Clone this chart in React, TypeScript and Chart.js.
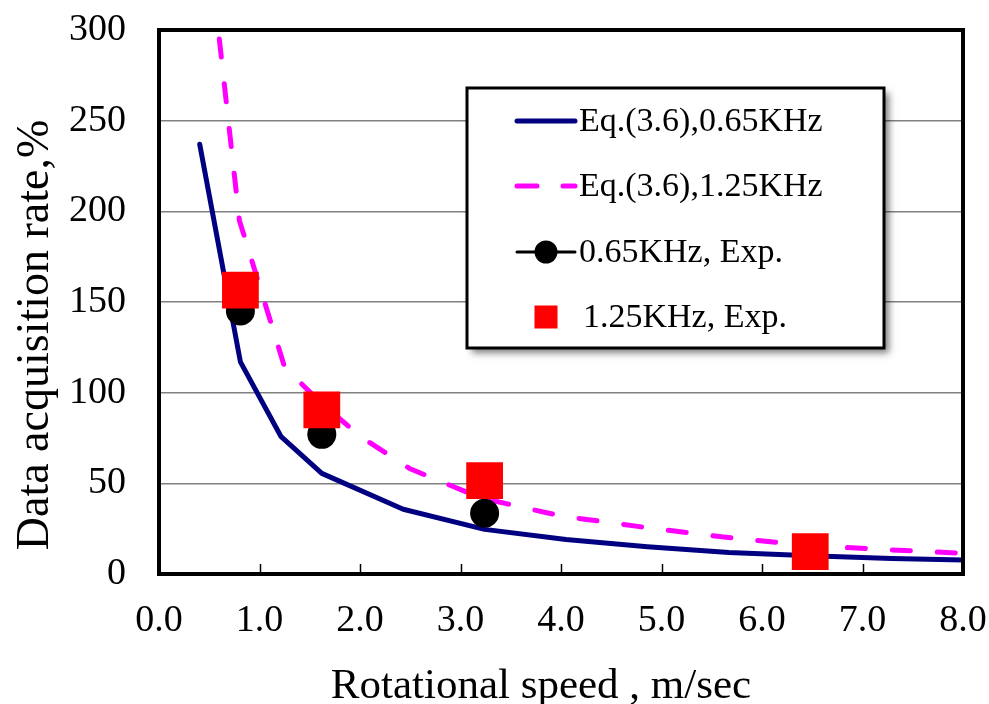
import React, { useEffect, useRef } from 'react';
import { Chart, registerables } from 'chart.js';

Chart.register(...registerables);

// Eq.(3.6), 0.65 KHz (solid navy)
const eq065X = [0.405, 0.81, 1.215, 1.62, 2.43, 3.24, 4.05, 4.86, 5.67, 6.48, 7.29, 8.0];
const eq065Y = [237, 117, 75.7, 55.5, 35.7, 24.6, 19, 15, 11.8, 10, 8.6, 7.7];

// Eq.(3.6), 1.25 KHz (dashed magenta)
const eq125X = [0.6, 0.8, 1.25, 1.6, 2.0, 2.5, 3.2, 4.0, 4.8, 5.6, 6.4, 7.2, 8.0];
const eq125Y = [295, 195, 114, 95, 76, 58, 42, 32, 26, 20.5, 16, 13.5, 11.4];

// Experiments
const expX = [0.81, 1.62, 3.24, 6.48];
const exp065Y = [145, 77, 33.5, 12];
const exp125Y = [156.5, 90.5, 51.5, 12.3];

const xTickValues = [0, 1, 2, 3, 4, 5, 6, 7, 8];
const yTickValues = [0, 50, 100, 150, 200, 250, 300];

const seriesLabels = [
  'Eq.(3.6),0.65KHz',
  'Eq.(3.6),1.25KHz',
  '0.65KHz, Exp.',
  '1.25KHz, Exp.',
];
const xTitle = 'Rotational speed , m/sec';
const yTitle = 'Data acquisition rate,%';

const FONT = '"Liberation Serif", "Times New Roman", serif';

const toPts = (xs: number[], ys: number[]) => xs.map((x, i) => ({ x, y: ys[i] }));

const framePlugin = {
  id: 'frameAndExtras',
  afterDatasetsDraw(chart: any) {
    const { ctx, chartArea, scales } = chart;
    const { left, right, top, bottom } = chartArea;
    ctx.save();
    // inward tick marks on x axis
    ctx.strokeStyle = '#000';
    ctx.lineWidth = 1.5;
    xTickValues.forEach((v) => {
      const px = Math.round(scales.x.getPixelForValue(v)) + 0.5;
      ctx.beginPath();
      ctx.moveTo(px, bottom);
      ctx.lineTo(px, bottom - 10);
      ctx.stroke();
    });
    // frame
    ctx.lineWidth = 4;
    ctx.strokeStyle = '#000';
    ctx.strokeRect(left, top, right - left, bottom - top);
    ctx.restore();
  },
  afterDraw(chart: any) {
    const { ctx } = chart;
    ctx.save();
    // axis titles
    ctx.fillStyle = '#000';
    ctx.font = `43px ${FONT}`;
    ctx.textAlign = 'center';
    ctx.textBaseline = 'alphabetic';
    ctx.fillText(xTitle, 541, 698);
    ctx.save();
    ctx.translate(48, 335);
    ctx.rotate(-Math.PI / 2);
    ctx.font = `46px ${FONT}`;
    ctx.fillText(yTitle, 0, 0);
    ctx.restore();

    // legend
    const bx = 467, by = 88, bw = 417, bh = 260;
    ctx.save();
    ctx.shadowColor = 'rgba(0,0,0,0.5)';
    ctx.shadowBlur = 7;
    ctx.shadowOffsetX = 5;
    ctx.shadowOffsetY = 5;
    ctx.fillStyle = '#fff';
    ctx.fillRect(bx, by, bw, bh);
    ctx.restore();
    ctx.lineWidth = 3;
    ctx.strokeStyle = '#000';
    ctx.strokeRect(bx, by, bw, bh);

    const rows = [121, 186, 252, 317];
    const sx0 = 517, sx1 = 575, smid = 546;
    ctx.lineCap = 'round';
    // row 1 solid navy
    ctx.strokeStyle = '#000080';
    ctx.lineWidth = 5;
    ctx.beginPath();
    ctx.moveTo(sx0, rows[0]);
    ctx.lineTo(sx1, rows[0]);
    ctx.stroke();
    // row 2 dashed magenta
    ctx.strokeStyle = '#FF00FF';
    ctx.beginPath();
    ctx.moveTo(sx0, rows[1]);
    ctx.lineTo(sx0 + 20, rows[1]);
    ctx.moveTo(sx1 - 12, rows[1]);
    ctx.lineTo(sx1, rows[1]);
    ctx.stroke();
    // row 3 black line + circle
    ctx.strokeStyle = '#000';
    ctx.lineWidth = 3;
    ctx.beginPath();
    ctx.moveTo(sx0, rows[2]);
    ctx.lineTo(sx1, rows[2]);
    ctx.stroke();
    ctx.fillStyle = '#000';
    ctx.beginPath();
    ctx.arc(smid, rows[2], 11.5, 0, Math.PI * 2);
    ctx.fill();
    // row 4 red square
    ctx.fillStyle = '#FF0000';
    ctx.fillRect(smid - 11.5, rows[3] - 11.5, 23, 23);

    ctx.fillStyle = '#000';
    ctx.font = `34px ${FONT}`;
    ctx.textAlign = 'left';
    ctx.textBaseline = 'middle';
    const tx = [579, 579, 579, 583];
    seriesLabels.forEach((t, i) => ctx.fillText(t, tx[i], rows[i] + 1));
    ctx.restore();
  },
};

export default function App() {
  const ref = useRef<HTMLCanvasElement | null>(null);
  useEffect(() => {
    document.body.style.margin = '0';
    const canvas = ref.current!;
    const chart = new Chart(canvas, {
      type: 'scatter',
      data: {
        datasets: [
          {
            label: seriesLabels[3],
            data: toPts(expX, exp125Y),
            showLine: false,
            pointStyle: 'rect',
            pointRadius: 26,
            pointHoverRadius: 26,
            backgroundColor: '#FF0000',
            borderColor: '#FF0000',
            borderWidth: 0,
            order: 0,
          },
          {
            label: seriesLabels[2],
            data: toPts(expX, exp065Y),
            showLine: false,
            pointStyle: 'circle',
            pointRadius: 14.5,
            pointHoverRadius: 14.5,
            backgroundColor: '#000',
            borderColor: '#000',
            borderWidth: 0,
            order: 1,
          },
          {
            label: seriesLabels[1],
            data: toPts(eq125X, eq125Y),
            showLine: true,
            borderColor: '#FF00FF',
            borderWidth: 5,
            borderDash: [18, 27],
            borderCapStyle: 'round',
            pointRadius: 0,
            tension: 0,
            order: 2,
          } as any,
          {
            label: seriesLabels[0],
            data: toPts(eq065X, eq065Y),
            showLine: true,
            borderColor: '#000080',
            borderWidth: 5,
            borderCapStyle: 'round',
            borderJoinStyle: 'round',
            pointRadius: 0,
            tension: 0,
            order: 3,
          } as any,
        ],
      },
      options: {
        animation: false,
        responsive: false,
        devicePixelRatio: 1,
        layout: { padding: { top: 30, right: 23, left: 0, bottom: 0 } },
        plugins: {
          legend: { display: false },
          tooltip: { enabled: false },
        },
        scales: {
          x: {
            type: 'linear',
            min: 0,
            max: 8,
            afterFit: (s: any) => {
              s.height = 130;
              s.paddingLeft = 0;
              s.paddingRight = 0;
              s.paddingTop = 0;
              s.paddingBottom = 0;
            },
            afterBuildTicks: (s: any) => {
              s.ticks = xTickValues.map((v) => ({ value: v }));
            },
            ticks: {
              callback: (v: any) => Number(v).toFixed(1),
              font: { family: FONT, size: 38 },
              color: '#000',
              padding: 24,
              maxRotation: 0,
            },
            grid: { drawOnChartArea: false, drawTicks: false },
            border: { display: false },
          },
          y: {
            type: 'linear',
            min: 0,
            max: 300,
            afterFit: (s: any) => {
              s.width = 159;
              s.paddingLeft = 0;
              s.paddingRight = 0;
              s.paddingTop = 0;
              s.paddingBottom = 0;
            },
            afterBuildTicks: (s: any) => {
              s.ticks = yTickValues.map((v) => ({ value: v }));
            },
            ticks: {
              font: { family: FONT, size: 38 },
              color: '#000',
              padding: 33,
            },
            grid: { color: '#808080', lineWidth: 1.5, drawTicks: false },
            border: { display: false },
          },
        },
      },
      plugins: [framePlugin],
    });
    return () => chart.destroy();
  }, []);
  return (
    <div style={{ position: 'fixed', left: 0, top: 0, width: 989, height: 704, background: '#fff' }}>
      <canvas ref={ref} width={989} height={704} style={{ width: 989, height: 704 }} />
    </div>
  );
}
